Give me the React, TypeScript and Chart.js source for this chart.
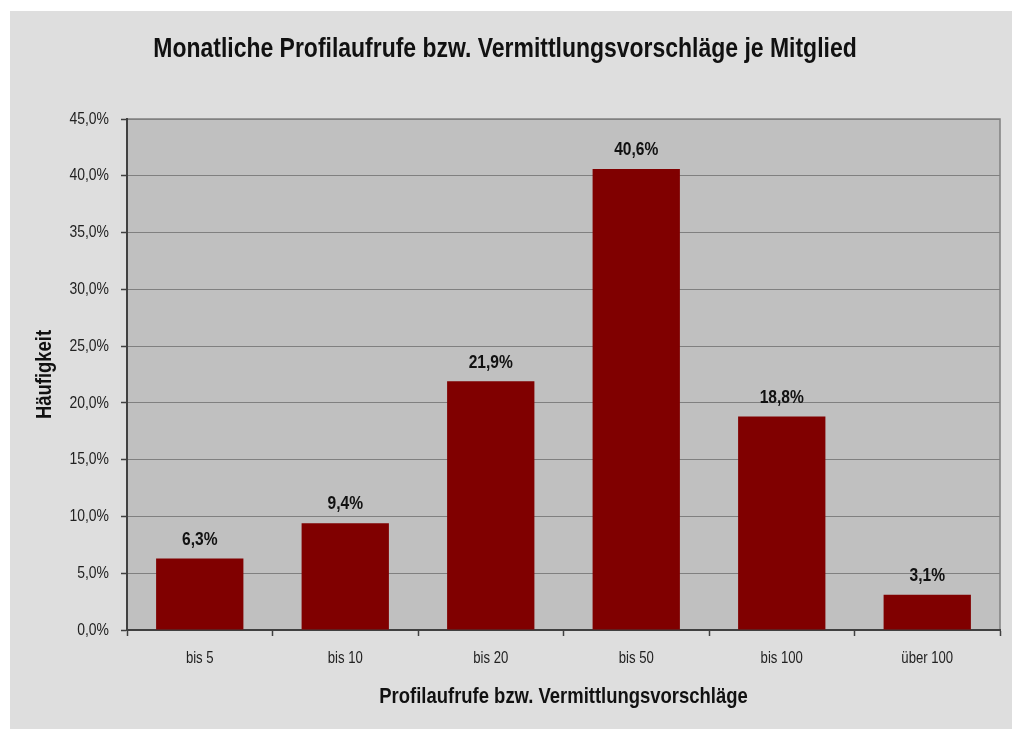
import React, { useEffect, useRef } from "react";
import { Chart, registerables } from "chart.js";

Chart.register(...registerables);

const categories = ["bis 5", "bis 10", "bis 20", "bis 50", "bis 100", "über 100"];
const values = [6.3, 9.4, 21.9, 40.6, 18.8, 3.1];
const yTicks = [0, 5, 10, 15, 20, 25, 30, 35, 40, 45];
const titleText = "Monatliche Profilaufrufe bzw. Vermittlungsvorschläge je Mitglied";
const xTitle = "Profilaufrufe bzw. Vermittlungsvorschläge";
const yTitle = "Häufigkeit";

const FONT = "'Liberation Sans', Arial, sans-serif";
const NARROW = 0.82;

const fmt = (v: number) => v.toFixed(1).replace(".", ",") + "%";

// Render Liberation Sans horizontally condensed, like Arial Narrow
const narrowText = {
  id: "narrowText",
  beforeInit(chart: any) {
    const ctx = chart.ctx;
    const proto = Object.getPrototypeOf(ctx);
    const fill = proto.fillText;
    const measure = proto.measureText;
    ctx.fillText = function (text: string, x: number, y: number, maxWidth?: number) {
      ctx.save();
      ctx.translate(x, y);
      ctx.scale(NARROW, 1);
      if (maxWidth === undefined || maxWidth === null) fill.call(ctx, text, 0, 0);
      else fill.call(ctx, text, 0, 0, maxWidth / NARROW);
      ctx.restore();
    };
    ctx.measureText = function (text: string) {
      const m = measure.call(ctx, text);
      return {
        width: m.width * NARROW,
        actualBoundingBoxAscent: m.actualBoundingBoxAscent,
        actualBoundingBoxDescent: m.actualBoundingBoxDescent,
        actualBoundingBoxLeft: m.actualBoundingBoxLeft * NARROW,
        actualBoundingBoxRight: m.actualBoundingBoxRight * NARROW,
        fontBoundingBoxAscent: m.fontBoundingBoxAscent,
        fontBoundingBoxDescent: m.fontBoundingBoxDescent,
      };
    };
  },
};

const plotBg = {
  id: "plotBg",
  beforeDraw(chart: any) {
    const { ctx, chartArea: a } = chart;
    ctx.save();
    ctx.fillStyle = "#c0c0c0";
    ctx.fillRect(a.left, a.top, a.right - a.left, a.bottom - a.top);
    ctx.strokeStyle = "#808080";
    ctx.lineWidth = 1.5;
    ctx.beginPath();
    ctx.moveTo(a.left, a.top);
    ctx.lineTo(a.right, a.top);
    ctx.lineTo(a.right, a.bottom);
    ctx.stroke();
    ctx.restore();
  },
};

const dataLabels = {
  id: "dataLabels",
  afterDatasetsDraw(chart: any) {
    const { ctx } = chart;
    const meta = chart.getDatasetMeta(0);
    ctx.save();
    ctx.font = `bold 19px ${FONT}`;
    ctx.fillStyle = "#111";
    ctx.textAlign = "center";
    ctx.textBaseline = "middle";
    meta.data.forEach((bar: any, i: number) => {
      ctx.fillText(fmt(values[i]), bar.x, bar.y - 19);
    });
    ctx.restore();
  },
};

export default function App() {
  const ref = useRef<HTMLCanvasElement>(null);
  useEffect(() => {
    if (!ref.current) return;
    const chart = new Chart(ref.current, {
      type: "bar",
      data: {
        labels: categories,
        datasets: [
          {
            data: values,
            backgroundColor: "#800000",
            borderWidth: 0,
            categoryPercentage: 1,
            barPercentage: 0.6,
          },
        ],
      },
      options: {
        responsive: false,
        animation: false,
        layout: { padding: { left: 0, right: 12, top: 0, bottom: 0 } },
        plugins: {
          legend: { display: false },
          tooltip: { enabled: false },
          title: {
            display: true,
            text: titleText,
            color: "#111",
            font: { family: FONT, size: 28, weight: "bold", lineHeight: 1.2 },
            padding: { top: 21, bottom: 53.4 },
          },
        },
        scales: {
          x: {
            offset: true,
            grid: {
              offset: true,
              drawOnChartArea: false,
              drawTicks: true,
              tickLength: 6,
              tickColor: "#404040",
              tickWidth: 1.5,
            },
            border: { color: "#404040", width: 2 },
            ticks: {
              color: "#222",
              font: { family: FONT, size: 16 },
              padding: 13,
            },
            title: {
              display: true,
              text: xTitle,
              color: "#111",
              font: { family: FONT, size: 22.5, weight: "bold", lineHeight: 1.2 },
              padding: { top: 0, bottom: 19 },
            },
            afterFit: (s: any) => {
              s.height = 99;
            },
          },
          y: {
            min: 0,
            max: 45,
            afterBuildTicks: (s: any) => {
              s.ticks = yTicks.map((v) => ({ value: v }));
            },
            grid: {
              color: "#808080",
              lineWidth: 1,
              drawTicks: true,
              tickLength: 6,
              tickColor: "#404040",
              tickWidth: 1.5,
            },
            border: { color: "#404040", width: 2 },
            ticks: {
              color: "#222",
              font: { family: FONT, size: 17 },
              padding: 12,
              callback: (v: any) => fmt(Number(v)),
            },
            title: {
              display: true,
              text: yTitle,
              color: "#111",
              font: { family: FONT, size: 22.5, weight: "bold", lineHeight: 1.2 },
              padding: { top: 21.5, bottom: 0 },
            },
            afterFit: (s: any) => {
              s.width = 117;
            },
          },
        },
      },
      plugins: [narrowText, plotBg, dataLabels],
    });
    return () => chart.destroy();
  }, []);
  return (
    <div style={{ position: "absolute", left: 0, top: 0, width: 1012, height: 729, background: "#fff" }}>
      <div style={{ position: "absolute", left: 10, top: 11, width: 1002, height: 718, background: "#dedede" }}>
        <canvas ref={ref} width={1002} height={718} style={{ display: "block", width: 1002, height: 718 }} />
      </div>
    </div>
  );
}
